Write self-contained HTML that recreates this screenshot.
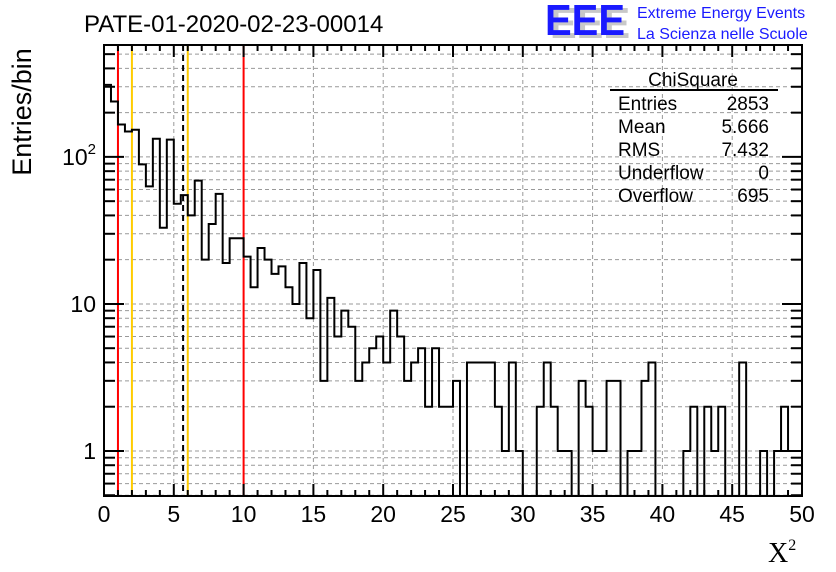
<!DOCTYPE html>
<html><head><meta charset="utf-8"><style>
html,body{margin:0;padding:0;background:#fff;}
svg{display:block;font-family:"Liberation Sans",sans-serif;}
</style></head><body>
<svg id="c" width="836" height="572" viewBox="0 0 836 572">
<text x="84" y="32" font-size="24" fill="#000">PATE-01-2020-02-23-00014</text>
<g>
<text x="550" y="38" font-size="44" font-weight="bold" fill="#c8c8c8" textLength="80" lengthAdjust="spacingAndGlyphs">EEE</text>
<text x="545" y="35" font-size="44" font-weight="bold" fill="#1a1aff" textLength="80" lengthAdjust="spacingAndGlyphs">EEE</text>
<text x="637" y="18" font-size="16" fill="#1a1aff">Extreme Energy Events</text>
<text x="637" y="39" font-size="16" fill="#1a1aff">La Scienza nelle Scuole</text>
</g>
<g id="grid"></g>
<g id="lines"></g>
<path id="hist" fill="none" stroke="#000" stroke-width="2"/>
<rect x="104" y="45" width="698" height="451" fill="none" stroke="#000" stroke-width="2"/>
<g id="ticks"></g>
<g id="labels" font-size="23"></g>
<text x="31" y="112" font-size="27" transform="rotate(-90 31 112)" text-anchor="middle">Entries/bin</text>
<text x="768" y="562" font-size="28" font-family="Liberation Serif,serif">X<tspan font-size="16" dy="-12">2</tspan></text>
<g id="stats" font-size="19">
<text x="693" y="86" text-anchor="middle">ChiSquare</text>
<line x1="610" y1="90" x2="778" y2="90" stroke="#000" stroke-width="2"/>
<text x="618" y="110">Entries</text><text x="769" y="110" text-anchor="end">2853</text>
<text x="618" y="133">Mean</text><text x="769" y="133" text-anchor="end">5.666</text>
<text x="618" y="156">RMS</text><text x="769" y="156" text-anchor="end">7.432</text>
<text x="618" y="179">Underflow</text><text x="769" y="179" text-anchor="end">0</text>
<text x="618" y="202">Overflow</text><text x="769" y="202" text-anchor="end">695</text>
</g>
</svg>
<script>
const counts = [309,238,166,149,153,89,63,133,33,131,48,55,40,69,20,35,56,19,28,28,
21,13,24,20,16,18,13,10,19,8,17,3,11,6,9,7,3,4,5,6,
4,9,6,3,4,5,2,5,2,2,3,0,4,4,4,4,2,1,4,1,
0,0,2,4,2,1,1,0,3,2,1,1,3,3,0,1,1,3,4,0,
0,0,0,1,2,0,2,1,2,0,0,4,0,0,1,0,1,2,1,1];
const xTicks = [0,5,10,15,20,25,30,35,40,45,50];
const yTicks = [1,10,100];
const yTickBase = ["1","10","10"];
const yTickExp = ["","","2"];
const markers = [{x:1,c:"#ff0000"},{x:10,c:"#ff0000"},{x:2,c:"#ffcc00"},{x:6,c:"#ffcc00"}];
const meanValue = 5.666;
const binWidth = 0.5;

const NS="http://www.w3.org/2000/svg";
const X0=104,X1=802,Y0=496,Y1=45,XMAX=50;
const YMIN=0.494,YMAX=577;
const sx=v=>X0+(v/XMAX)*(X1-X0);
const sy=v=>Y0-(Math.log10(v)-Math.log10(YMIN))/(Math.log10(YMAX)-Math.log10(YMIN))*(Y0-Y1);
function mk(tag,attrs,parent){const e=document.createElementNS(NS,tag);for(const k in attrs)e.setAttribute(k,attrs[k]);(typeof parent==='string'?document.getElementById(parent):parent).appendChild(e);return e;}

for(let v=5;v<XMAX;v+=5){
 const g=mk('line',{x1:sx(v),x2:sx(v),y1:Y1,y2:Y0,stroke:'#999','stroke-dasharray':'4,3','stroke-width':1},'grid');
 
 
}
const logVals=[];
for(let d=0.1;d<=100;d*=10){for(let m=1;m<=9;m++){const v=Math.round(m*d*1000)/1000;if(v>YMIN&&v<YMAX)logVals.push(v);}}
logVals.forEach(v=>{
 const g=mk('line',{x1:X0,x2:X1,y1:sy(v),y2:sy(v),stroke:'#999','stroke-dasharray':'4,3','stroke-width':1},'grid');
 
 
 const major=yTicks.includes(v);const L=major?20:11;
 const t1=mk('line',{x1:X0,x2:X0+L,y1:sy(v),y2:sy(v),stroke:'#000','stroke-width':2},'ticks');
 
 
 const t2=mk('line',{x1:X1-L,x2:X1,y1:sy(v),y2:sy(v),stroke:'#000','stroke-width':2},'ticks');
 
 
});
for(let v=1;v<XMAX;v++){
 const L=v%5===0?12:6;
 const t1=mk('line',{x1:sx(v),x2:sx(v),y1:Y0,y2:Y0-L,stroke:'#000','stroke-width':2},'ticks');
 
 
 const t2=mk('line',{x1:sx(v),x2:sx(v),y1:Y1,y2:Y1+L,stroke:'#000','stroke-width':2},'ticks');
 
 
}
xTicks.forEach(v=>{
 const t=mk('text',{x:sx(v),y:522,'text-anchor':'middle'},'labels');t.textContent=v;
 
 
});
yTicks.forEach((v,i)=>{
 const t=mk('text',{x:96,y:sy(v)+8,'text-anchor':'end'},'labels');
 
 
 t.appendChild(document.createTextNode(yTickBase[i]));
 if(yTickExp[i]){const s=mk('tspan',{'font-size':15,dy:-11},t);s.textContent=yTickExp[i];}
});
markers.forEach(m=>{
 const l=mk('line',{x1:sx(m.x),x2:sx(m.x),y1:Y1,y2:Y0,stroke:m.c,'stroke-width':2},'lines');
 
 
});
const ml=mk('line',{x1:sx(meanValue),x2:sx(meanValue),y1:Y1,y2:Y0,stroke:'#000','stroke-width':2,'stroke-dasharray':'6,4'},'lines');


const yc=v=>v>0?Math.max(Y1,sy(v)):Y0;
let d='M'+sx(0)+','+yc(counts[0]);
counts.forEach((c,i)=>{
 const y=yc(c);
 if(i>0)d+=' L'+sx(i*binWidth)+','+y;
 d+=' L'+sx((i+1)*binWidth)+','+y;
});
document.getElementById('hist').setAttribute('d',d);
</script>
</body></html>
